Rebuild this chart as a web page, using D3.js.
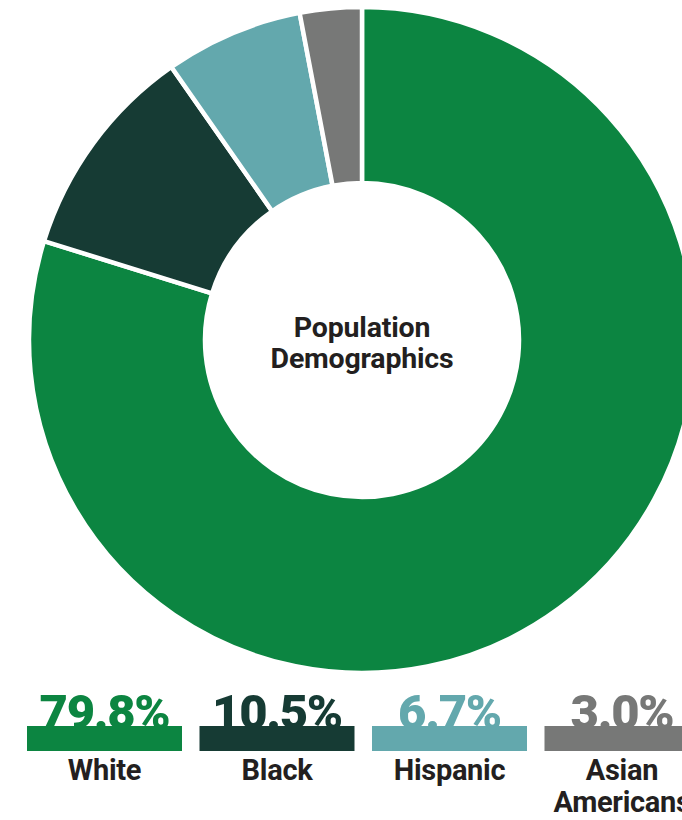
<!DOCTYPE html>
<html>
<head>
<meta charset="utf-8">
<script src="https://cdn.jsdelivr.net/npm/d3@7"></script>
<style>
  html, body { margin: 0; padding: 0; background: #ffffff; overflow: hidden; }
  svg { display: block; }
  text { font-family: Roboto, "Noto Sans", sans-serif; }
</style>
</head>
<body>
<svg id="chart" width="682" height="820"></svg>
<script>
// Population shares by group
const categories = ["White", "Black", "Hispanic", "Asian Americans"];
const shares = [79.8, 10.5, 6.7, 3.0];
const percentLabels = ["79.8%", "10.5%", "6.7%", "3.0%"];
const legendLines = [["White"], ["Black"], ["Hispanic"], ["Asian", "Americans"]];
const palette = ["#0c8541", "#163b34", "#63a8ad", "#777877"];

const svg = d3.select("#chart");

const cx = 362, cy = 340;
const outerR = 333, innerR = 157;

const color = d3.scaleOrdinal().domain(categories).range(palette);

const pie = d3.pie().sort(null).value(d => d.value).startAngle(0).endAngle(2 * Math.PI);
const arc = d3.arc().innerRadius(innerR).outerRadius(outerR);

const data = categories.map((c, i) => ({ name: c, value: shares[i] }));

const g = svg.append("g").attr("transform", `translate(${cx},${cy})`);
g.selectAll("path.slice")
  .data(pie(data))
  .join("path")
  .attr("class", "slice")
  .attr("d", arc)
  .attr("fill", d => color(d.data.name))
  .attr("stroke", "#ffffff")
  .attr("stroke-width", 4.5)
  .attr("stroke-linejoin", "miter");

// Centre title
const title = g.append("text")
  .attr("text-anchor", "middle")
  .attr("fill", "#231f20")
  .attr("font-weight", 700)
  .attr("font-size", 28.5)
  .attr("letter-spacing", -0.2);
title.append("tspan").attr("x", 0).attr("y", 337 - cy).text("Population");
title.append("tspan").attr("x", 0).attr("y", 368 - cy).text("Demographics");

// Legend: one column per group, 155px bars on a 172.5px step
const bandW = 155, step = 172.5;
const legendX = d3.scaleBand()
  .domain(categories)
  .range([27, 27 + 3 * step + bandW])
  .paddingInner((step - bandW) / step)
  .paddingOuter(0)
  .align(0);

const barTop = 726, barH = 25;

const cols = svg.append("g").selectAll("g.col")
  .data(data)
  .join("g")
  .attr("class", "col")
  .attr("transform", d => `translate(${legendX(d.name)},0)`);

cols.append("text")
  .attr("x", legendX.bandwidth() / 2)
  .attr("y", 729)
  .attr("text-anchor", "middle")
  .attr("font-weight", 900)
  .attr("font-size", 49)
  .attr("letter-spacing", -1.3)
  .attr("fill", d => color(d.name))
  .text((d, i) => percentLabels[i]);

cols.append("rect")
  .attr("x", 0)
  .attr("y", barTop)
  .attr("width", legendX.bandwidth())
  .attr("height", barH)
  .attr("fill", d => color(d.name));

cols.each(function (d, i) {
  const t = d3.select(this).append("text")
    .attr("text-anchor", "middle")
    .attr("font-weight", 700)
    .attr("font-size", 29)
    .attr("letter-spacing", -0.3)
    .attr("fill", "#231f20");
  legendLines[i].forEach((line, k) => {
    t.append("tspan")
      .attr("x", legendX.bandwidth() / 2)
      .attr("y", 780 + k * 32)
      .text(line);
  });
});
</script>
</body>
</html>
